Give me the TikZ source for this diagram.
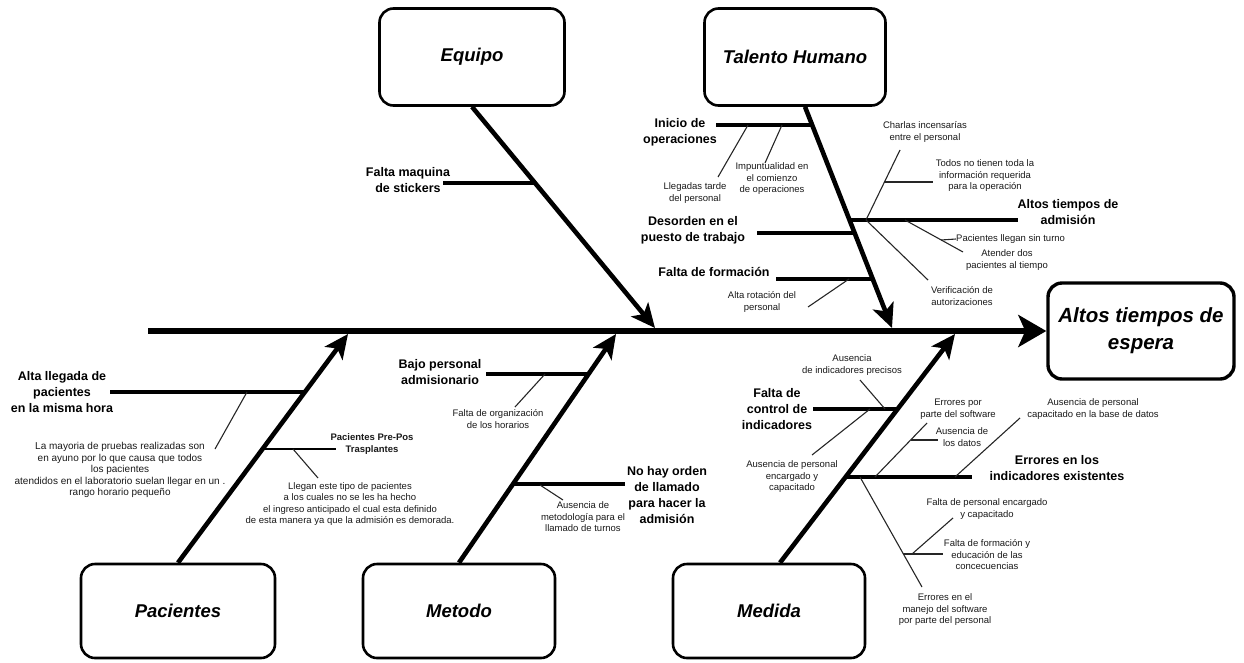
\documentclass[tikz,border=0pt]{standalone}
\usepackage{fontspec}
\setmainfont{Liberation Sans}
\usetikzlibrary{arrows.meta,positioning,calc}

\begin{document}
\begin{tikzpicture}[x=1pt, y=-1pt,
  catbox/.style={draw, line width=2.6pt, rounded corners=14pt, minimum width=188pt, minimum height=94pt, font=\fontsize{18.5}{22}\selectfont\bfseries\itshape},
  spine/.style={line width=6pt, -{Stealth[length=28pt, width=32pt, inset=7pt]}},
  bone/.style={line width=4.6pt, -{Stealth[length=24pt, width=22pt, inset=6pt]}},
  causeline/.style={line width=3.2pt},
  subline/.style={line width=1.1pt, black!85},
  cause/.style={align=center, inner sep=0pt, font=\fontsize{12.5}{16}\selectfont\bfseries},
  note/.style={align=center, inner sep=0pt, text=black!90, font=\fontsize{9.5}{11.5}\selectfont}]
  \useasboundingbox (0,0) rectangle (1244,662);

  % categorias y efecto
  \node[catbox, minimum width=185pt, minimum height=97pt] (equipo) at (472,57) {Equipo};
  \node[catbox, minimum width=181pt, minimum height=97pt] (talento) at (795,57) {Talento Humano};
  \node[catbox, minimum width=194pt] (pacientes) at (178,611) {Pacientes};
  \node[catbox, minimum width=192pt] (metodo) at (459,611) {Metodo};
  \node[catbox, minimum width=192pt] (medida) at (769,611) {Medida};
  \node[catbox, line width=3.4pt, minimum width=186pt, minimum height=96pt, align=center,
        font=\fontsize{20.5}{27}\selectfont\bfseries\itshape] (efecto) at (1141,331) {Altos tiempos de\\espera};

  % espina y huesos
  \coordinate (tail) at (148,331);
  \coordinate (eqEnd) at (655,328);
  \coordinate (thEnd) at (892,328);
  \coordinate (pcEnd) at (348,334);
  \coordinate (mtEnd) at (616,334);
  \coordinate (mdEnd) at (955,334);
  \draw[spine] (tail) -- (efecto.west);
  \draw[bone] (equipo.south) -- (eqEnd);
  \draw[bone] ([xshift=10pt]talento.south) -- (thEnd);
  \draw[bone] (pacientes.north) -- (pcEnd);
  \draw[bone] (metodo.north) -- (mtEnd);
  \draw[bone] ([xshift=11pt]medida.north) -- (mdEnd);

  % Equipo
  \node[cause] (maquina) at (408,180) {Falta maquina\\de stickers};
  \coordinate (maqA) at (443,183);
  \coordinate (maqB) at (536,183);
  \draw[causeline] (maqA) -- (maqB);

  % Talento Humano
  \node[cause] (inicio) at (680,132) {Inicio de\\operaciones};
  \coordinate (iniA) at (716,125);
  \coordinate (iniB) at (813,125);
  \draw[causeline] (iniA) -- (iniB);
  \node[note] (llegadas) at (695,193) {Llegadas tarde\\del personal};
  \node[note] (impunt) at (772,179) {Impuntualidad en\\el comienzo\\de operaciones};
  \coordinate (lleA) at (748,125);
  \coordinate (lleB) at (718,177);
  \coordinate (impA) at (782,125);
  \coordinate (impB) at (765,163);
  \draw[subline] (lleA) -- (lleB);
  \draw[subline] (impA) -- (impB);

  \node[cause] (desorden) at (693,230) {Desorden en el\\puesto de trabajo};
  \coordinate (desA) at (757,233);
  \coordinate (desB) at (855,233);
  \draw[causeline] (desA) -- (desB);

  \node[cause] (formacion) at (714,272) {Falta de formación};
  \coordinate (forA) at (776,279);
  \coordinate (forB) at (873,279);
  \draw[causeline] (forA) -- (forB);
  \node[note] (rotacion) at (762,302) {Alta rotación del\\personal};
  \coordinate (rotA) at (849,279);
  \coordinate (rotB) at (808,307);
  \draw[subline] (rotA) -- (rotB);

  \node[cause] (admision) at (1068,212) {Altos tiempos de\\admisión};
  \coordinate (admA) at (850,220);
  \coordinate (admB) at (1018,220);
  \coordinate (admJ) at (866,220);
  \draw[causeline] (admA) -- (admB);
  \node[note] (charlas) at (925,132) {Charlas incensarías\\entre el personal};
  \node[note] (todos) at (985,176) {Todos no tienen toda la\\información requerida\\para la operación};
  \node[note, anchor=west] (sinturno) at (956,239) {Pacientes llegan sin turno};
  \node[note] (atender) at (1007,260) {Atender dos\\pacientes al tiempo};
  \node[note] (verif) at (962,296) {Verificación de\\autorizaciones};
  \coordinate (chaB) at (900,150);
  \coordinate (todA) at (884,182);
  \coordinate (todB) at (933,182);
  \coordinate (ateA) at (905,220);
  \coordinate (ateB) at (963,252);
  \coordinate (sinA) at (941,240);
  \coordinate (verB) at (928,280);
  \draw[subline] (admJ) -- (chaB);
  \draw[subline] (todA) -- (todB);
  \draw[subline] (ateA) -- (ateB);
  \draw[subline] (sinA) -- (sinturno.west);
  \draw[subline] (admJ) -- (verB);

  % Pacientes
  \node[cause] (altallegada) at (62,392) {Alta llegada de\\pacientes\\en la misma hora};
  \coordinate (allA) at (110,392);
  \coordinate (allB) at (305,392);
  \draw[causeline] (allA) -- (allB);
  \node[note, font=\fontsize{10}{11.5}\selectfont] (ayuno) at (120,470) {La mayoria de pruebas realizadas son\\en ayuno por lo que causa que todos\\los pacientes\\atendidos en el laboratorio suelan llegar en un .\\rango horario pequeño};
  \coordinate (ayuA) at (247,392);
  \coordinate (ayuB) at (215,449);
  \draw[subline] (ayuA) -- (ayuB);

  \node[note, font=\fontsize{9.5}{12.5}\selectfont\bfseries] (prepos) at (372,444) {Pacientes Pre-Pos\\Trasplantes};
  \coordinate (preA) at (263,449);
  \coordinate (preB) at (336,449);
  \draw[causeline, line width=1.6pt] (preA) -- (preB);
  \node[note] (llegan) at (350,504) {Llegan este tipo de pacientes\\a los cuales no se les ha hecho\\el ingreso anticipado el cual esta definido\\de esta manera ya que la admisión es demorada.};
  \coordinate (llgA) at (293,449);
  \coordinate (llgB) at (318,478);
  \draw[subline] (llgA) -- (llgB);

  % Metodo
  \node[cause] (bajo) at (440,372) {Bajo personal\\admisionario};
  \coordinate (bajA) at (486,374);
  \coordinate (bajB) at (589,374);
  \draw[causeline] (bajA) -- (bajB);
  \node[note] (organiz) at (498,419) {Falta de organización\\de los horarios};
  \coordinate (orgA) at (545,374);
  \coordinate (orgB) at (515,407);
  \draw[subline] (orgA) -- (orgB);

  \node[cause] (orden) at (667,495) {No hay orden\\de llamado\\para hacer la\\admisión};
  \coordinate (ordA) at (514,484);
  \coordinate (ordB) at (625,484);
  \draw[causeline] (ordA) -- (ordB);
  \node[note] (metodologia) at (583,517) {Ausencia de\\metodología para el\\llamado de turnos};
  \coordinate (metA) at (540,485);
  \coordinate (metB) at (563,500);
  \draw[subline] (metA) -- (metB);

  % Medida
  \node[cause] (control) at (777,409) {Falta de\\control de\\indicadores};
  \coordinate (conA) at (813,409);
  \coordinate (conB) at (898,409);
  \draw[causeline] (conA) -- (conB);
  \node[note] (precisos) at (852,365) {Ausencia\\de indicadores precisos};
  \node[note] (encargado) at (792,477) {Ausencia de personal\\encargado y\\capacitado};
  \coordinate (preciA) at (885,409);
  \coordinate (preciB) at (860,380);
  \coordinate (encA) at (870,409);
  \coordinate (encB) at (812,455);
  \draw[subline] (preciA) -- (preciB);
  \draw[subline] (encA) -- (encB);

  \node[cause] (errores) at (1057,468) {Errores en los\\indicadores existentes};
  \coordinate (errA) at (847,477);
  \coordinate (errB) at (972,477);
  \draw[causeline] (errA) -- (errB);
  \node[note] (software) at (958,409) {Errores por\\parte del software};
  \node[note] (datos) at (962,437) {Ausencia de\\los datos};
  \node[note] (basedatos) at (1093,409) {Ausencia de personal\\capacitado en la base de datos};
  \node[note] (manejo) at (945,610) {Errores en el\\manejo del software\\por parte del personal};
  \node[note] (falpers) at (987,509) {Falta de personal encargado\\y capacitado};
  \node[note] (educ) at (987,555) {Falta de formación y\\educación de las\\concecuencias};
  \coordinate (sofA) at (875,477);
  \coordinate (sofB) at (927,423);
  \coordinate (datA) at (911,440);
  \coordinate (datB) at (938,440);
  \coordinate (basA) at (955,477);
  \coordinate (basB) at (1020,418);
  \coordinate (manA) at (860,477);
  \coordinate (manB) at (922,587);
  \coordinate (eduA) at (903,554);
  \coordinate (eduB) at (943,554);
  \coordinate (fpA) at (912,554);
  \coordinate (fpB) at (953,518);
  \draw[subline] (sofA) -- (sofB);
  \draw[subline] (datA) -- (datB);
  \draw[subline] (basA) -- (basB);
  \draw[subline] (manA) -- (manB);
  \draw[subline] (eduA) -- (eduB);
  \draw[subline] (fpA) -- (fpB);
\end{tikzpicture}
\end{document}
